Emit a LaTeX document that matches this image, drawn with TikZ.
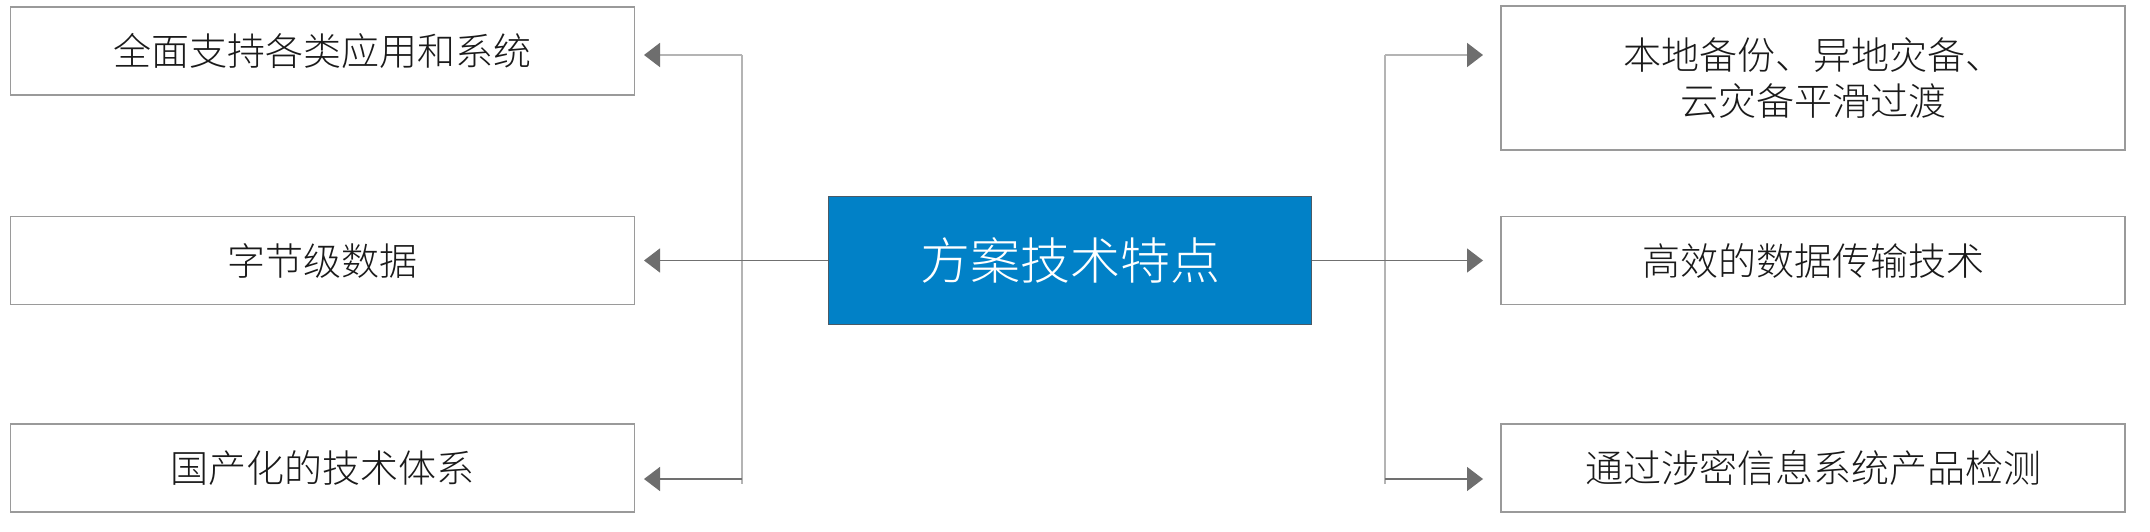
\documentclass[tikz,border=0pt]{standalone}
\usepackage{fontspec}
\newfontfamily\cjk{Noto Sans CJK SC Light}
\usetikzlibrary{arrows.meta}
\definecolor{boxgray}{HTML}{9A9A9A}
\definecolor{lightline}{HTML}{B4B4B4}
\definecolor{darkline}{HTML}{707070}
\definecolor{tipgray}{HTML}{6E6E6E}
\definecolor{mainblue}{HTML}{0181C7}
\definecolor{cborder}{HTML}{4A5A66}
\definecolor{txt}{HTML}{1A1A1A}
\tikzset{
  feature/.style={draw=boxgray, line width=1.5pt, fill=white, rectangle, inner sep=0pt,
    minimum width=624pt, minimum height=88pt, align=center, text=txt,
    font=\cjk\fontsize{38}{46}\selectfont},
  hub/.style={draw=cborder, line width=1.2pt, fill=mainblue, rectangle, inner sep=0pt,
    minimum width=483pt, minimum height=128pt, text=white,
    font=\cjk\fontsize{50}{60}\selectfont},
  tipped/.style={-{Triangle[length=16pt,width=24pt,color=tipgray]}},
  trunk/.style={draw=lightline, line width=2pt},
  lightbranch/.style={draw=lightline, line width=1.8pt, tipped},
  darkbranch/.style={draw=darkline, line width=1.4pt, tipped},
}
\begin{document}
\begin{tikzpicture}[x=1pt,y=-1pt]
\useasboundingbox (0,0) rectangle (2150,532);
\fill[white] (0,0) rectangle (2150,532);

% nodes
\node[feature] (L1) at (322.5,51) {全面支持各类应用和系统};
\node[feature] (L2) at (322.5,260.5) {字节级数据};
\node[feature] (L3) at (322.5,468) {国产化的技术体系};
\node[feature, minimum height=144pt] (R1) at (1813,78) {本地备份、异地灾备、\\云灾备平滑过渡};
\node[feature] (R2) at (1813,260.5) {高效的数据传输技术};
\node[feature] (R3) at (1813,468) {通过涉密信息系统产品检测};
\node[hub] (C) at (1070,260.5) {方案技术特点};

% junction and tip coordinates
\coordinate (jlt) at (741.5,55);
\coordinate (jlb) at (741.5,479);
\coordinate (jle) at (741.5,484);
\coordinate (jrt) at (1385,55);
\coordinate (jrb) at (1385,479);
\coordinate (jre) at (1385,484);
\coordinate (tl1) at (644,55);
\coordinate (tl2) at (644,260.5);
\coordinate (tl3) at (644,479);
\coordinate (tr1) at (1483,55);
\coordinate (tr2) at (1483,260.5);
\coordinate (tr3) at (1483,479);

% trunks
\draw[trunk] (jlt) -- (jle);
\draw[trunk] (jrt) -- (jre);

% branches
\draw[lightbranch] (jlt) -- (tl1);
\draw[darkbranch] (C.west) -- (tl2);
\draw[darkbranch] (jlb) -- (tl3);
\draw[lightbranch] (jrt) -- (tr1);
\draw[darkbranch] (C.east) -- (tr2);
\draw[darkbranch] (jrb) -- (tr3);
\end{tikzpicture}
\end{document}
